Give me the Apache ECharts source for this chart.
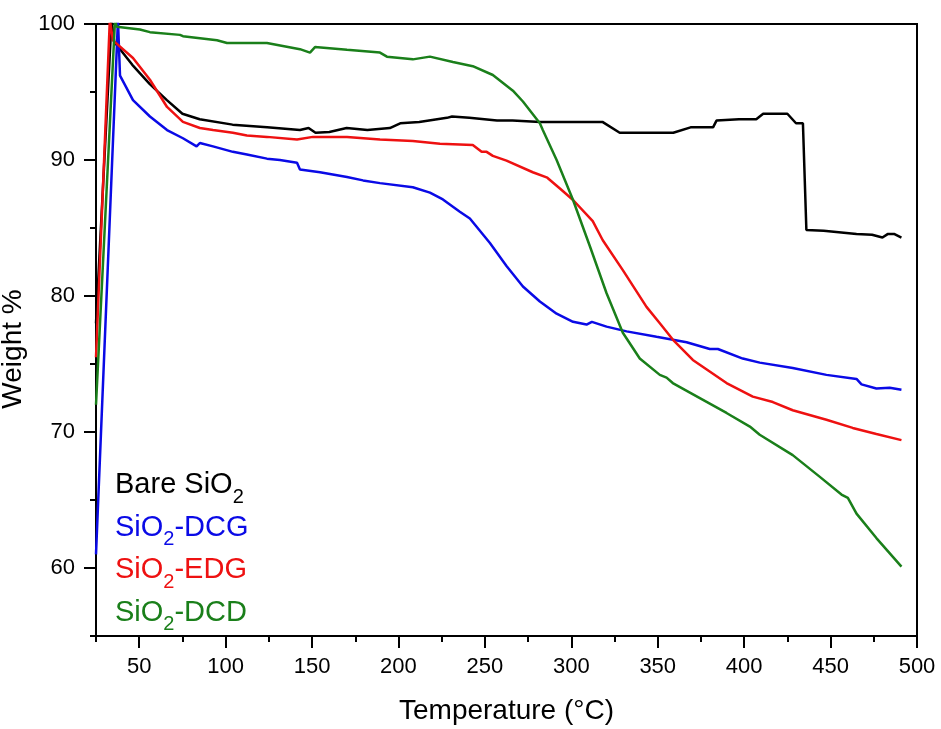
<!DOCTYPE html>
<html>
<head>
<meta charset="utf-8">
<script src="https://cdn.jsdelivr.net/npm/echarts@6/dist/echarts.min.js"></script>
<style>
html,body{margin:0;padding:0;background:#fff;}
#chart{width:941px;height:729px;}
</style>
</head>
<body>
<div id="chart"></div>
<script>
// ---- data (temperature °C, weight %) ----
var seriesNames = ['Bare SiO2', 'SiO2-DCG', 'SiO2-EDG', 'SiO2-DCD'];

var bareT = [25,34,35.5,46,56,66,75,85,104,124,143,148,152,160,170,182,195,201,212,228,231,241,257,266,282,301,318,328,340,359,369,382,384,397,407,411,425,430,434,436,446,465,474,480,483,487,491];
var bareW = [78,100.3,98.7,97.0,95.6,94.4,93.4,93.0,92.6,92.4,92.2,92.35,92.0,92.06,92.35,92.2,92.35,92.7,92.8,93.1,93.2,93.1,92.9,92.9,92.8,92.8,92.8,92.0,92.0,92.0,92.4,92.4,92.9,93.0,93.0,93.4,93.4,92.7,92.7,84.85,84.8,84.56,84.5,84.3,84.55,84.55,84.3];

var dcgT = [25,37.7,38.9,46.4,56.2,66.1,75.3,83.2,85.1,86.1,92.7,104.2,112.3,123.9,131.4,141.3,143,154.6,170.2,179.5,189.3,208.3,218.2,225.7,235.5,241.3,252.9,262.5,272,281.8,291.5,301,308.8,311.9,320.4,332,349.3,366.7,380.1,384.8,399.2,409,428.1,447.6,465,467.9,476.5,484.2,491];
var dcgW = [61,100.3,96.2,94.4,93.2,92.2,91.6,91.0,91.25,91.25,91.0,90.6,90.4,90.1,90.0,89.8,89.3,89.1,88.75,88.5,88.3,88.0,87.6,87.1,86.2,85.7,83.9,82.2,80.7,79.6,78.7,78.1,77.9,78.1,77.75,77.4,77.0,76.6,76.1,76.1,75.4,75.1,74.7,74.2,73.9,73.5,73.2,73.25,73.1];

var edgT = [25,33,34.8,46.4,56.2,66.1,75.3,85.1,92.7,104.2,112.3,123.9,141.3,150.5,170.2,189.3,208.3,224,243,248.1,251,254.6,262.5,277.7,286.1,293.4,301,312.4,318.2,329.8,343.5,351.2,358.7,370.3,389.8,405,416.6,428.1,447.6,462.8,476.5,491];
var edgW = [75.5,100.3,98.8,97.5,95.9,93.9,92.8,92.35,92.2,92.0,91.8,91.7,91.5,91.7,91.7,91.5,91.4,91.2,91.1,90.6,90.6,90.3,89.95,89.1,88.7,87.9,87.06,85.5,84.1,81.9,79.2,78.0,76.8,75.3,73.6,72.6,72.2,71.6,70.9,70.3,69.85,69.4];

var dcdT = [25,36,37,50.4,56.2,73.6,75.3,95,100.8,112.3,123.9,143,148.8,151.7,170.2,189.3,193.3,208.3,218.2,231.5,243,254.6,266.2,272,281.8,283.5,291.5,301,310.9,320.4,329.8,339.6,351.2,355.1,358.7,368.6,389.8,403.3,409,428.1,443.8,456.3,460,465,476.5,491];
var dcdW = [72,100.3,99.8,99.6,99.4,99.2,99.1,98.8,98.6,98.6,98.6,98.15,97.9,98.3,98.1,97.9,97.6,97.4,97.6,97.2,96.9,96.25,95.1,94.3,92.7,92.2,90.0,87.06,83.6,80.2,77.3,75.4,74.2,74.0,73.6,72.9,71.4,70.4,69.8,68.3,66.7,65.4,65.15,64.0,62.2,60.1];

var xLabelTicks = [50,100,150,200,250,300,350,400,450,500];
var xMinorTicks = [25,75,125,175,225,275,325,375,425,475];
var yLabelTicks = [60,70,80,90,100];
var yMinorTicks = [55,65,75,85,95];

var colors = ['#000000', '#0a0ae6', '#ee1111', '#1a7f1a'];

function pairs(t, w) { return t.map(function (v, i) { return [v, w[i]]; }); }
var allT = [bareT, dcgT, edgT, dcdT];
var allW = [bareW, dcgW, edgW, dcdW];

var FONTFAM = "'Liberation Sans', Arial, sans-serif";
var MAIN_SIZE = 29, SUB_SIZE = 20;

// ---- legend built as text graphics (with real subscripts) ----
var measureCtx = document.createElement('canvas').getContext('2d');
function textWidth(t, size) {
  measureCtx.font = size + 'px ' + FONTFAM;
  return measureCtx.measureText(t).width;
}
function legendGraphics() {
  var els = [];
  var x0 = 115, y0 = 485, step = 42.5;
  seriesNames.forEach(function (name, i) {
    var y = y0 + i * step;
    var x = x0;
    var parts = name.split('SiO2');
    parts.forEach(function (p, j) {
      if (j > 0) {
        els.push({ type: 'text', x: x, y: y, style: { text: 'SiO', fill: colors[i], font: MAIN_SIZE + 'px ' + FONTFAM, verticalAlign: 'middle', align: 'left' } });
        x += textWidth('SiO', MAIN_SIZE);
        els.push({ type: 'text', x: x, y: y + 12, style: { text: '2', fill: colors[i], font: SUB_SIZE + 'px ' + FONTFAM, verticalAlign: 'middle', align: 'left' } });
        x += textWidth('2', SUB_SIZE);
      }
      if (p) {
        els.push({ type: 'text', x: x, y: y, style: { text: p, fill: colors[i], font: MAIN_SIZE + 'px ' + FONTFAM, verticalAlign: 'middle', align: 'left' } });
        x += textWidth(p, MAIN_SIZE);
      }
    });
  });
  return els;
}

var chart = echarts.init(document.getElementById('chart'), null, { renderer: 'canvas' });

var axisLineStyle = { color: '#000', width: 2 };

chart.setOption({
  animation: false,
  backgroundColor: '#fff',
  grid: { left: 96, right: 24, top: 24, bottom: 93, outerBoundsMode: 'none', containLabel: false, show: true, borderColor: '#000', borderWidth: 2, backgroundColor: 'transparent' },
  graphic: legendGraphics(),
  xAxis: [
    {
      type: 'value', min: 25, max: 500, position: 'bottom',
      name: 'Temperature (°C)', nameLocation: 'middle', nameGap: 61,
      nameTextStyle: { fontSize: 28, color: '#000', fontFamily: FONTFAM },
      axisLine: { show: true, onZero: false, lineStyle: axisLineStyle },
      axisTick: { show: true, length: 12, customValues: xLabelTicks, lineStyle: axisLineStyle },
      axisLabel: { customValues: xLabelTicks, fontSize: 22, color: '#000', margin: 20, fontFamily: FONTFAM },
      splitLine: { show: false }
    },
    {
      type: 'value', min: 25, max: 500, position: 'bottom',
      axisLine: { show: false, onZero: false },
      axisTick: { show: true, length: 6, customValues: xMinorTicks, lineStyle: axisLineStyle },
      axisLabel: { show: false },
      splitLine: { show: false }
    }
  ],
  yAxis: [
    {
      type: 'value', min: 55, max: 100, position: 'left',
      name: 'Weight %', nameLocation: 'middle', nameGap: 43,
      nameTextStyle: { fontSize: 28, color: '#000', fontFamily: FONTFAM, padding: [0, 38, 0, 0] },
      axisLine: { show: true, onZero: false, lineStyle: axisLineStyle },
      axisTick: { show: true, length: 12, customValues: yLabelTicks, lineStyle: axisLineStyle },
      axisLabel: { customValues: yLabelTicks, fontSize: 22, color: '#000', margin: 21, fontFamily: FONTFAM },
      splitLine: { show: false }
    },
    {
      type: 'value', min: 55, max: 100, position: 'left',
      axisLine: { show: false, onZero: false },
      axisTick: { show: true, length: 6, customValues: yMinorTicks, lineStyle: axisLineStyle },
      axisLabel: { show: false },
      splitLine: { show: false }
    }
  ],
  series: seriesNames.map(function (n, i) {
    return {
      name: n, type: 'line', xAxisIndex: 0, yAxisIndex: 0,
      data: pairs(allT[i], allW[i]),
      symbol: 'none', showSymbol: false,
      lineStyle: { color: colors[i], width: 2.5 },
      itemStyle: { color: colors[i] },
      clip: true
    };
  })
});
</script>
</body>
</html>
